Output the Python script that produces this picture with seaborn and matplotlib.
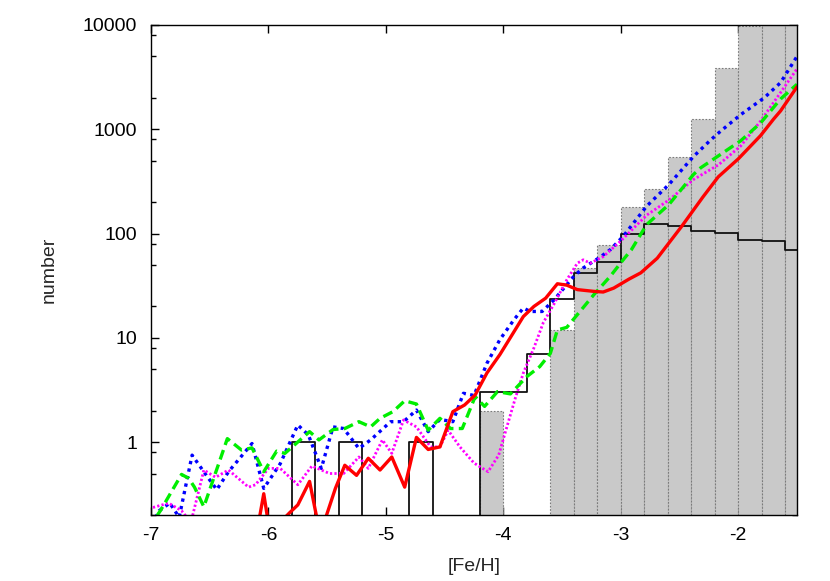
import numpy as np
import pandas as pd
import matplotlib
matplotlib.use("Agg")
import matplotlib.pyplot as plt
import seaborn as sns
from matplotlib.ticker import FixedLocator, FixedFormatter, NullFormatter

# ---------------- data ----------------
bin_edges = [-7.0, -6.8, -6.6, -6.4, -6.2, -6.0, -5.8, -5.6, -5.4, -5.2, -5.0,
             -4.8, -4.6, -4.4, -4.2, -4.0, -3.8, -3.6, -3.4, -3.2, -3.0, -2.8,
             -2.6, -2.4, -2.2, -2.0, -1.8, -1.6, -1.4]
bin_centers = [-6.9, -6.7, -6.5, -6.3, -6.1, -5.9, -5.7, -5.5, -5.3, -5.1, -4.9,
               -4.7, -4.5, -4.3, -4.1, -3.9, -3.7, -3.5, -3.3, -3.1, -2.9, -2.7,
               -2.5, -2.3, -2.1, -1.9, -1.7, -1.5]
gray_counts = [0, 0, 0, 0, 0, 0, 0, 0, 0, 0, 0,
               0, 0, 0, 2, 0, 0, 12, 47, 77, 181, 270,
               545, 1260, 3860, 9700, 13000, 16000]
black_counts = [0, 0, 0, 0, 0, 0, 1, 0, 1, 0, 0,
                1, 0, 0, 3, 3, 7, 23.6, 42, 53, 98, 124,
                117, 106, 102, 87, 85, 70]

red_x = [-6.12, -6.04, -5.97, -5.90, -5.82, -5.75, -5.65, -5.56, -5.43, -5.35,
         -5.25, -5.15, -5.05, -4.95, -4.84, -4.74, -4.64, -4.54, -4.43, -4.33,
         -4.24, -4.14, -4.03, -3.93, -3.83, -3.74, -3.64, -3.54, -3.46, -3.37,
         -3.23, -3.15, -3.06, -2.93, -2.83, -2.69, -2.48, -2.30, -2.17, -2.00,
         -1.81, -1.70, -1.64, -1.50]
red_y = [0.10, 0.32, 0.10, 0.17, 0.21, 0.25, 0.42, 0.13, 0.36, 0.60,
         0.48, 0.70, 0.54, 0.72, 0.37, 1.11, 0.85, 0.90, 1.96, 2.27,
         2.83, 4.6, 6.9, 10.5, 16, 20, 24, 33, 32, 29,
         27.9, 27.5, 30, 36.6, 42, 58, 118, 225, 350, 520,
         870, 1250, 1500, 2550]

green_x = [-7.02, -6.92, -6.74, -6.68, -6.63, -6.55, -6.35, -6.23, -6.14, -6.04,
           -5.93, -5.86, -5.65, -5.57, -5.45, -5.35, -5.23, -5.13, -5.05, -4.94,
           -4.84, -4.74, -4.64, -4.54, -4.45, -4.35, -4.24, -4.16, -4.05, -3.94,
           -3.80, -3.69, -3.60, -3.54, -3.46, -3.37, -3.23, -3.09, -2.98, -2.91,
           -2.78, -2.59, -2.38, -2.32, -2.15, -1.98, -1.81, -1.64, -1.50]
green_y = [0.15, 0.22, 0.49, 0.45, 0.37, 0.24, 1.08, 0.84, 0.88, 0.52,
           0.82, 0.78, 1.26, 1.05, 1.32, 1.35, 1.57, 1.40, 1.69, 1.96,
           2.49, 2.32, 1.30, 1.69, 1.35, 1.35, 2.73, 2.2, 3.05, 2.9,
           4.25, 5.3, 7.1, 11.9, 12.6, 16.7, 25.9, 38.9, 56, 70,
           122, 190, 370, 427, 575, 775, 1150, 1950, 2700]

blue_x = [-7.02, -6.93, -6.84, -6.76, -6.65, -6.54, -6.44, -6.34, -6.14, -6.04,
          -5.90, -5.75, -5.66, -5.55, -5.45, -5.36, -5.23, -5.13, -4.96, -4.85,
          -4.74, -4.64, -4.54, -4.43, -4.34, -4.25, -4.14, -4.03, -3.91, -3.83,
          -3.77, -3.67, -3.57, -3.40, -3.32, -3.18, -3.09, -2.98, -2.78, -2.59,
          -2.38, -2.23, -2.15, -1.98, -1.78, -1.64, -1.50]
blue_y = [0.14, 0.22, 0.26, 0.19, 0.75, 0.50, 0.35, 0.52, 0.97, 0.36,
          0.62, 1.46, 1.17, 0.56, 1.40, 1.35, 0.87, 1.05, 1.57, 1.57,
          2.03, 1.26, 1.65, 1.57, 2.94, 2.8, 5.7, 9.6, 14.9, 19.3,
          17.9, 17.9, 23, 39, 46.8, 59, 70, 94, 183, 296,
          550, 800, 960, 1380, 2000, 2800, 5000]

magenta_x = [-7.02, -6.85, -6.74, -6.66, -6.55, -6.45, -6.34, -6.17, -6.11, -6.00,
             -5.90, -5.75, -5.63, -5.48, -5.36, -5.23, -5.15, -5.03, -4.95, -4.85,
             -4.74, -4.62, -4.54, -4.47, -4.37, -4.25, -4.13, -4.04, -3.97, -3.90,
             -3.83, -3.74, -3.66, -3.57, -3.46, -3.37, -3.32, -3.26, -3.15, -3.00,
             -2.78, -2.59, -2.38, -2.17, -1.98, -1.81, -1.64, -1.50]
magenta_y = [0.23, 0.26, 0.22, 0.17, 0.54, 0.46, 0.54, 0.37, 0.39, 0.56,
             0.56, 0.39, 0.59, 0.50, 0.50, 0.72, 0.56, 1.05, 0.78, 1.63,
             1.40, 0.90, 0.90, 1.30, 0.90, 0.63, 0.52, 0.75, 1.4, 2.6,
             4.6, 8, 14, 21, 36, 52, 56, 52, 60, 85,
             150, 210, 330, 455, 690, 1200, 2250, 3800]

x_ticks = [-7, -6, -5, -4, -3, -2]
x_tick_labels = ["-7", "-6", "-5", "-4", "-3", "-2"]
y_ticks = [1, 10, 100, 1000, 10000]
y_tick_labels = ["1", "10", "100", "1000", "10000"]
y_minor = [0.2, 0.5, 0.8, 2, 5, 8, 20, 50, 80, 200, 500, 800, 2000, 5000, 8000]

# ---------------- style ----------------
sns.set_theme(style="ticks")
plt.rcParams["font.family"] = ["Liberation Sans", "DejaVu Sans"]
FS = 14

fig = plt.figure(figsize=(8.3, 5.81), dpi=100)
ax = fig.add_axes([151 / 830, 1 - 515 / 581, (797 - 151) / 830, (515 - 25) / 581])
ax.set_yscale("log")

sns.histplot(x=bin_centers, weights=gray_counts, bins=bin_edges, element="bars",
             fill=True, color="#c9c9c9", edgecolor="#7a7a7a", linewidth=0.8,
             linestyle=(0, (1.5, 1.5)), alpha=1, ax=ax, zorder=1)
sns.histplot(x=bin_centers, weights=black_counts, bins=bin_edges, element="step",
             fill=False, color="#111111", linewidth=1.3, ax=ax, zorder=2)

sns.lineplot(x=blue_x, y=blue_y, color="#0000ff", linewidth=2.4,
             linestyle=(0, (1, 1.3)), sort=False, estimator=None, ax=ax, zorder=3)
sns.lineplot(x=magenta_x, y=magenta_y, color="#ff00ff", linewidth=2.0,
             linestyle=(0, (0.8, 0.8)), sort=False, estimator=None, ax=ax, zorder=3)
sns.lineplot(x=green_x, y=green_y, color="#00ee00", linewidth=2.4,
             linestyle=(0, (3, 1.6)), sort=False, estimator=None, ax=ax, zorder=4)
sns.lineplot(x=red_x, y=red_y, color="#ff0000", linewidth=2.4,
             sort=False, estimator=None, ax=ax, zorder=5)

ax.set_xlim(-7, -1.5)
ax.set_ylim(0.2, 10000)

ax.xaxis.set_major_locator(FixedLocator(x_ticks))
ax.xaxis.set_major_formatter(FixedFormatter(x_tick_labels))
ax.xaxis.set_minor_locator(FixedLocator([]))
ax.yaxis.set_major_locator(FixedLocator(y_ticks))
ax.yaxis.set_major_formatter(FixedFormatter(y_tick_labels))
ax.yaxis.set_minor_locator(FixedLocator(y_minor))
ax.yaxis.set_minor_formatter(NullFormatter())

ax.tick_params(which="both", direction="in", top=True, right=True,
               colors="black", labelsize=FS)
ax.tick_params(which="major", length=6, width=1)
ax.tick_params(which="minor", length=3.5, width=1)
ax.tick_params(axis="x", which="major", pad=9)
ax.tick_params(axis="y", which="major", pad=10)

for s in ax.spines.values():
    s.set_color("black")
    s.set_linewidth(1.0)
    s.set_zorder(10)

ax.set_xlabel("[Fe/H]", fontsize=FS, labelpad=10)
ax.set_ylabel("number", fontsize=FS, labelpad=18)
ax.grid(False)

fig.savefig("out.png", dpi=100)
